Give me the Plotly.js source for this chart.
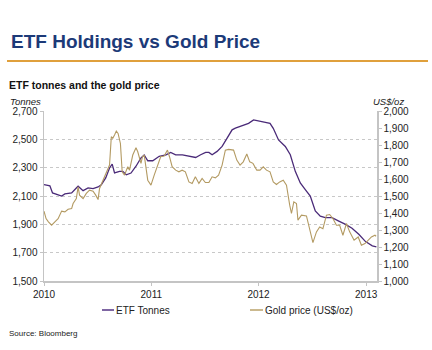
<!DOCTYPE html>
<html>
<head>
<meta charset="utf-8">
<script src="https://cdn.plot.ly/plotly-3.0.1.min.js"></script>
<style>html,body{margin:0;padding:0;background:#fff;}#chart{width:432px;height:350px;}</style>
</head>
<body>
<div id="chart"></div>
<script>
var etfDates = ["2010-01-01","2010-01-16","2010-01-21","2010-01-30","2010-02-13","2010-03-02","2010-03-13","2010-04-05","2010-04-21","2010-04-27","2010-05-14","2010-05-31","2010-06-17","2010-07-04","2010-07-15","2010-07-30","2010-08-12","2010-08-21","2010-08-29","2010-09-15","2010-09-26","2010-10-08","2010-10-24","2010-11-10","2010-11-27","2010-12-08","2010-12-20","2011-01-06","2011-01-28","2011-02-20","2011-03-08","2011-03-25","2011-04-17","2011-05-09","2011-06-01","2011-06-18","2011-07-05","2011-07-16","2011-07-27","2011-08-13","2011-08-30","2011-09-16","2011-10-03","2011-10-14","2011-11-06","2011-11-28","2011-12-15","2011-12-28","2012-01-12","2012-02-09","2012-02-20","2012-03-09","2012-04-01","2012-04-18","2012-05-05","2012-05-22","2012-06-08","2012-06-25","2012-07-12","2012-07-29","2012-08-15","2012-09-07","2012-09-30","2012-10-23","2012-11-14","2012-12-07","2012-12-30","2013-01-22","2013-02-05"];
var etfTonnes = [2181,2174,2172,2122,2110,2100,2115,2122,2157,2169,2138,2157,2152,2164,2180,2228,2298,2325,2263,2274,2274,2250,2262,2310,2368,2390,2349,2349,2380,2391,2408,2391,2391,2384,2372,2391,2408,2408,2391,2415,2450,2508,2567,2579,2597,2613,2637,2632,2625,2613,2578,2496,2450,2391,2274,2192,2145,2099,1994,1958,1947,1947,1923,1900,1872,1830,1778,1748,1741];

var goldDates = ["2010-01-01","2010-01-08","2010-01-16","2010-01-27","2010-02-07","2010-02-18","2010-03-02","2010-03-13","2010-03-24","2010-04-05","2010-04-10","2010-04-21","2010-04-27","2010-05-02","2010-05-14","2010-05-25","2010-06-05","2010-06-17","2010-06-26","2010-07-04","2010-07-09","2010-07-21","2010-08-01","2010-08-12","2010-08-18","2010-08-23","2010-08-29","2010-09-04","2010-09-10","2010-09-18","2010-09-24","2010-10-02","2010-10-13","2010-10-19","2010-10-30","2010-11-10","2010-11-16","2010-11-27","2010-12-02","2010-12-08","2010-12-20","2010-12-31","2011-01-11","2011-01-22","2011-02-02","2011-02-14","2011-02-25","2011-03-04","2011-03-13","2011-03-25","2011-04-05","2011-04-16","2011-04-27","2011-05-09","2011-05-20","2011-05-31","2011-06-12","2011-06-23","2011-07-04","2011-07-16","2011-07-27","2011-08-07","2011-08-18","2011-08-30","2011-09-10","2011-09-21","2011-10-08","2011-10-19","2011-10-30","2011-11-10","2011-11-22","2011-12-02","2011-12-13","2011-12-26","2012-01-06","2012-01-17","2012-01-28","2012-02-09","2012-02-20","2012-03-02","2012-03-13","2012-03-25","2012-04-05","2012-04-16","2012-04-22","2012-04-30","2012-05-09","2012-05-14","2012-05-26","2012-06-12","2012-06-23","2012-07-04","2012-07-16","2012-07-27","2012-08-07","2012-08-19","2012-08-30","2012-09-10","2012-09-22","2012-10-03","2012-10-14","2012-10-26","2012-11-06","2012-11-21","2012-12-05","2012-12-16","2012-12-28","2013-01-08","2013-01-19","2013-01-31","2013-02-04"];
var goldPrice = [1411,1367,1348,1328,1348,1367,1411,1407,1422,1426,1456,1485,1554,1505,1485,1515,1534,1528,1505,1479,1544,1593,1633,1682,1849,1839,1859,1882,1868,1809,1642,1623,1672,1652,1741,1784,1760,1692,1731,1741,1593,1564,1623,1672,1731,1735,1770,1731,1672,1652,1642,1652,1642,1583,1574,1613,1574,1603,1579,1579,1613,1607,1623,1682,1770,1774,1770,1711,1682,1701,1747,1701,1692,1652,1652,1672,1652,1642,1583,1568,1583,1593,1564,1446,1397,1466,1456,1358,1387,1383,1299,1226,1289,1318,1308,1387,1391,1367,1328,1328,1269,1338,1289,1240,1259,1210,1220,1240,1259,1269,1263];

var seriesNames = ["ETF Tonnes", "Gold price (US$/oz)"];
var yearTicks = ["2010-01-01","2011-01-01","2012-01-01","2013-01-01"];
var yearLabels = ["2010","2011","2012","2013"];

var FONT = "Liberation Sans, Arial, sans-serif";
var colEtf = "#4a2a78", colGold = "#b39a62";
var AX = "#c4c4c4";
var traces = [
  {x: etfDates, y: etfTonnes, name: seriesNames[0], type: "scatter", mode: "lines",
   line: {color: colEtf, width: 1.3}, yaxis: "y"},
  {x: goldDates, y: goldPrice, name: seriesNames[1], type: "scatter", mode: "lines",
   line: {color: colGold, width: 1.1}, yaxis: "y2"}
];

var PW = 333, PH = 170, L = 44, B = 281;
function px(x) { return (x - L) / PW; }
function py(y) { return (B - y) / PH; }

var layout = {
  width: 432, height: 350,
  margin: {l: 44, r: 55, t: 111, b: 69},
  paper_bgcolor: "#fff", plot_bgcolor: "#fff",
  font: {family: FONT, size: 10, color: "#222"},
  showlegend: false,
  title: {text: "<b>ETF Holdings vs Gold Price</b>", x: 11/432, xanchor: "left", xref: "container",
          y: 1 - 41/350, yanchor: "middle", yref: "container",
          font: {family: FONT, size: 19, color: "#1c3a78"}},
  xaxis: {type: "date", range: ["2010-01-01", "2013-02-07"], tickvals: yearTicks, ticktext: yearLabels,
          showgrid: false, zeroline: false, showline: true, linecolor: AX, linewidth: 1.5,
          ticks: "outside", ticklen: 3, tickcolor: AX, tickfont: {size: 10, color: "#222"}},
  yaxis: {range: [1500, 2700], tick0: 1500, dtick: 200, tickformat: ",d", showgrid: true, gridcolor: "#c8c8c8",
          griddash: "dot", gridwidth: 1, zeroline: false, showline: true, linecolor: AX, linewidth: 1.5,
          ticks: "outside", ticklen: 3, tickcolor: AX, tickfont: {size: 10, color: "#222"}},
  yaxis2: {range: [1000, 2000], tick0: 1000, dtick: 100, tickformat: ",d", overlaying: "y", side: "right",
           showgrid: false, zeroline: false, showline: true, linecolor: AX, linewidth: 1.5,
           ticks: "outside", ticklen: 3, tickcolor: AX, tickfont: {size: 10, color: "#222"}},
  shapes: [
    {type: "line", xref: "paper", yref: "paper", x0: px(7), x1: px(428),
     y0: py(61), y1: py(61), line: {color: "#e0a03c", width: 2}},
    {type: "line", xref: "paper", yref: "paper", x0: px(102), x1: px(114),
     y0: py(310), y1: py(310), line: {color: "#7f66a3", width: 2}},
    {type: "line", xref: "paper", yref: "paper", x0: px(250), x1: px(263),
     y0: py(310), y1: py(310), line: {color: "#cbb98f", width: 2}}
  ],
  annotations: [
    {text: "<b>ETF tonnes and the gold price</b>", xref: "paper", yref: "paper", x: px(7), y: py(85),
     xanchor: "left", yanchor: "middle", showarrow: false, font: {size: 10.5, color: "#111"}},
    {text: "<i>Tonnes</i>", xref: "paper", yref: "paper", x: px(8), y: py(101),
     xanchor: "left", yanchor: "middle", showarrow: false, font: {size: 9.5, color: "#222"}},
    {text: "<i>US$/oz</i>", xref: "paper", yref: "paper", x: px(406), y: py(101),
     xanchor: "right", yanchor: "middle", showarrow: false, font: {size: 9.5, color: "#222"}},
    {text: seriesNames[0], xref: "paper", yref: "paper", x: px(114), y: py(310),
     xanchor: "left", yanchor: "middle", showarrow: false, font: {size: 10, color: "#222"}},
    {text: seriesNames[1], xref: "paper", yref: "paper", x: px(263), y: py(310),
     xanchor: "left", yanchor: "middle", showarrow: false, font: {size: 10, color: "#222"}},
    {text: "Source: Bloomberg", xref: "paper", yref: "paper", x: px(7), y: py(333),
     xanchor: "left", yanchor: "middle", showarrow: false, font: {size: 8, color: "#222"}}
  ]
};

Plotly.newPlot("chart", traces, layout, {staticPlot: true, displayModeBar: false});
</script>
</body>
</html>
